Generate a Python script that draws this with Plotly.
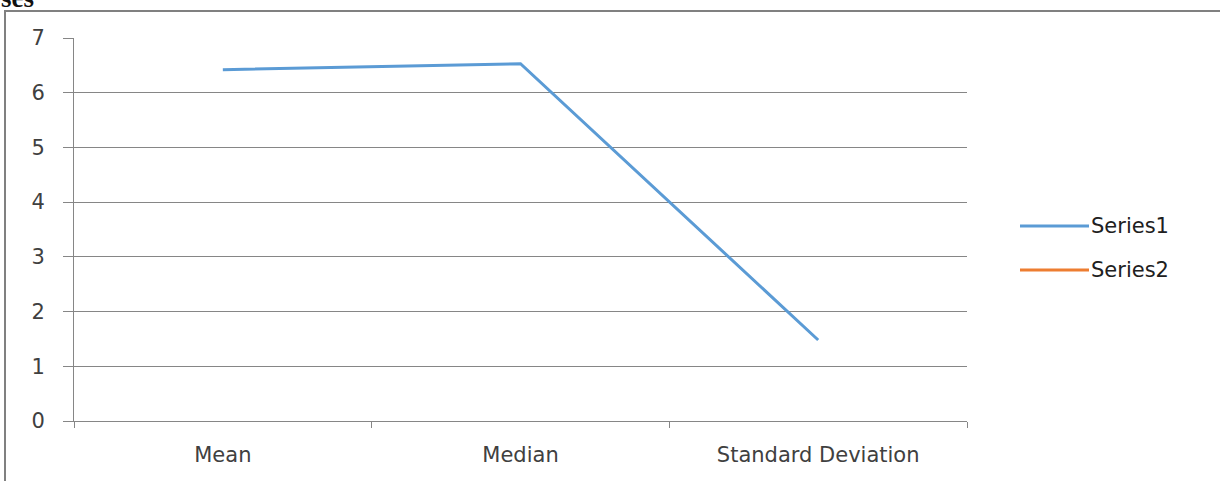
import plotly.graph_objects as go

# Summary statistics
categories = ["Mean", "Median", "Standard Deviation"]
series_names = ["Series1", "Series2"]
series1 = [6.42, 6.53, 1.48]
series2 = [None, None, None]
series_colors = ["#5B9BD5", "#ED7D31"]
y_ticks = [0, 1, 2, 3, 4, 5, 6, 7]

W, H = 1220, 481
L, R, T, B = 74, 253, 38, 60
pw, ph = W - L - R, H - T - B


def px_x(x):
    return (x - L) / pw


def px_y(y):
    return 1 - (y - T) / ph


fig = go.Figure()
for name, vals, color in zip(series_names, [series1, series2], series_colors):
    fig.add_trace(go.Scatter(
        x=categories, y=vals, mode="lines", name=name,
        line=dict(color=color, width=3), showlegend=False,
    ))

axis_font = dict(family="DejaVu Sans", size=21, color="#404040")

# Legend drawn beside the plot: long sample line + label per series
shapes = [
    dict(type="rect", xref="paper", yref="paper",
         x0=px_x(5), x1=px_x(1230), y0=px_y(11), y1=px_y(490),
         line=dict(color="#808080", width=2), fillcolor="rgba(0,0,0,0)",
         layer="below"),
]
annotations = [
    dict(text="<b>ses</b>", xref="paper", yref="paper",
         x=px_x(-1), y=px_y(15), xanchor="left", yanchor="bottom",
         showarrow=False,
         font=dict(family="Liberation Serif", size=27, color="#111111")),
]
legend_top, legend_step = 226, 44
for i, (name, color) in enumerate(zip(series_names, series_colors)):
    yy = legend_top + i * legend_step
    shapes.append(dict(type="line", xref="paper", yref="paper",
                       x0=px_x(1020), x1=px_x(1089), y0=px_y(yy), y1=px_y(yy),
                       line=dict(color=color, width=3)))
    annotations.append(dict(text=name, xref="paper", yref="paper",
                            x=px_x(1089), y=px_y(yy), xanchor="left",
                            yanchor="middle", showarrow=False,
                            font=dict(family="DejaVu Sans", size=21,
                                      color="#202020")))

fig.update_layout(
    width=W, height=H,
    margin=dict(l=L, r=R, t=T, b=B),
    paper_bgcolor="white", plot_bgcolor="white",
    showlegend=False,
    xaxis=dict(
        type="category", range=[-0.5, 2.5],
        showgrid=False, showline=True, linecolor="#868686", linewidth=1,
        ticks="outside", tickson="boundaries", ticklen=6, tickcolor="#868686",
        tickfont=axis_font, zeroline=False, ticklabelstandoff=15,
    ),
    yaxis=dict(
        range=[0, 7], tickvals=y_ticks, showgrid=True, gridcolor="#868686",
        gridwidth=1, showline=True, linecolor="#868686", linewidth=1,
        ticks="outside", ticklen=10, tickcolor="#868686",
        tickfont=axis_font, zeroline=False, ticklabelstandoff=14,
    ),
    shapes=shapes,
    annotations=annotations,
)

fig.write_html("out.html")
